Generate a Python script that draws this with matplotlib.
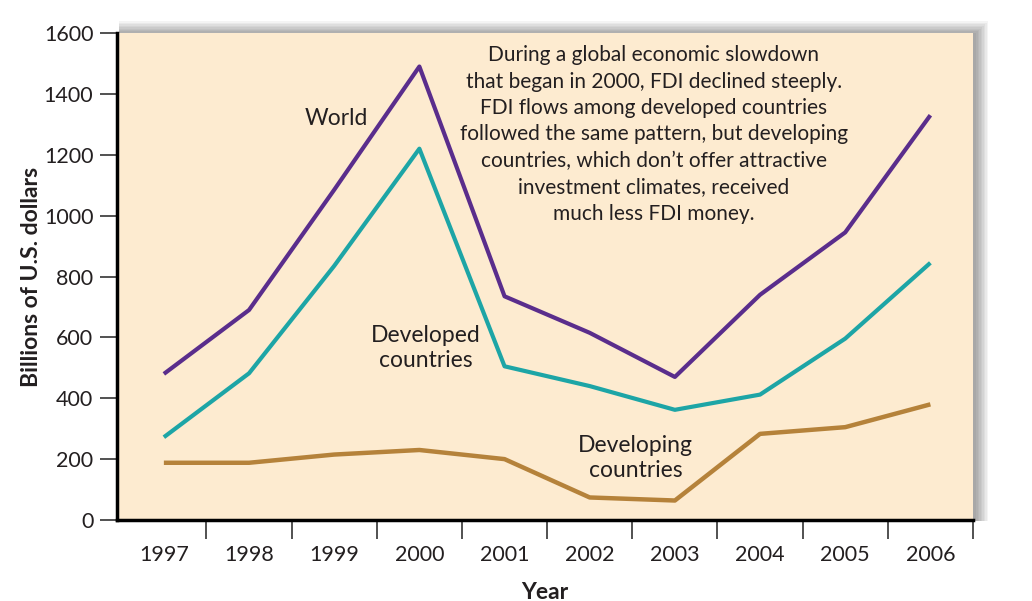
import matplotlib
matplotlib.use("Agg")
import matplotlib.pyplot as plt
from matplotlib.patches import Rectangle

years = [1997, 1998, 1999, 2000, 2001, 2002, 2003, 2004, 2005, 2006]
world = [480, 690, 1085, 1490, 735, 615, 470, 740, 945, 1330]
developed = [272, 482, 835, 1220, 505, 440, 362, 412, 596, 845]
developing = [188, 188, 215, 230, 200, 74, 64, 283, 305, 380]
yticks = [0, 200, 400, 600, 800, 1000, 1200, 1400, 1600]

plt.rcParams['font.family'] = ['Lato', 'DejaVu Sans']

fig = plt.figure(figsize=(10.32, 6.01), dpi=100)
fig.patch.set_facecolor('white')
ax = fig.add_axes([0.1134, 0.1348, 0.8294, 0.8102])

# shadow behind the plotting area
x0, y0, w, h = 0.1134, 0.1348, 0.8294, 0.8102
for i in range(9):
    d = 0.0014 * (i + 1)
    fig.patches.append(Rectangle((x0 + 0.002, y0 - 0.002), w + d, h + d * 1.7,
                                 transform=fig.transFigure, facecolor='black',
                                 alpha=0.045, edgecolor='none', zorder=0))

ax.set_facecolor('#fdebd0')
ax.set_zorder(1)

ax.plot(years, world, color='#5a2d8c', lw=3, solid_capstyle='butt')
ax.plot(years, developed, color='#1da5a6', lw=3, solid_capstyle='butt')
ax.plot(years, developing, color='#b5823a', lw=3.2, solid_capstyle='butt')

ax.set_xlim(1996.45, 2006.5)
ax.set_ylim(0, 1600)
ax.set_yticks(yticks)
ax.set_xticks([y + 0.5 for y in years])
ax.set_xticklabels([])
ax.set_xticks(years, minor=True)
ax.set_xticklabels([str(y) for y in years], minor=True)
ax.tick_params(axis='x', which='minor', length=0, pad=18, labelsize=15.5, colors='#231f20')
ax.tick_params(axis='x', which='major', length=14, width=1.2, direction='out', color='#333333')
ax.tick_params(axis='y', length=12, width=1.2, direction='out', labelsize=15.5, pad=5, color='#333333', labelcolor='#231f20')

for s in ['top', 'right']:
    ax.spines[s].set_visible(False)
for s in ['left', 'bottom']:
    ax.spines[s].set_linewidth(2.5)
    ax.spines[s].set_color('black')

ax.set_ylabel('Billions of U.S. dollars', fontsize=16.5, fontweight='bold', labelpad=1, color='#231f20')
ax.set_xlabel('Year', fontsize=16.5, fontweight='bold', labelpad=12, color='#231f20')

tc = '#231f20'
ax.text(1999.02, 1320, 'World', fontsize=16.5, ha='center', va='center', color=tc)
ax.text(2000.07, 565, 'Developed\ncountries', fontsize=16.5, ha='center', va='center', color=tc, linespacing=1.2)
ax.text(2002.54, 204, 'Developing\ncountries', fontsize=16.5, ha='center', va='center', color=tc, linespacing=1.2)
ax.text(2002.75, 1560,
        "During a global economic slowdown\nthat began in 2000, FDI declined steeply.\n"
        "FDI flows among developed countries\nfollowed the same pattern, but developing\n"
        "countries, which don\u2019t offer attractive\ninvestment climates, received\nmuch less FDI money.",
        fontsize=15, ha='center', va='top', color=tc, linespacing=1.4)

fig.savefig('out.png', dpi=100, facecolor='white')
